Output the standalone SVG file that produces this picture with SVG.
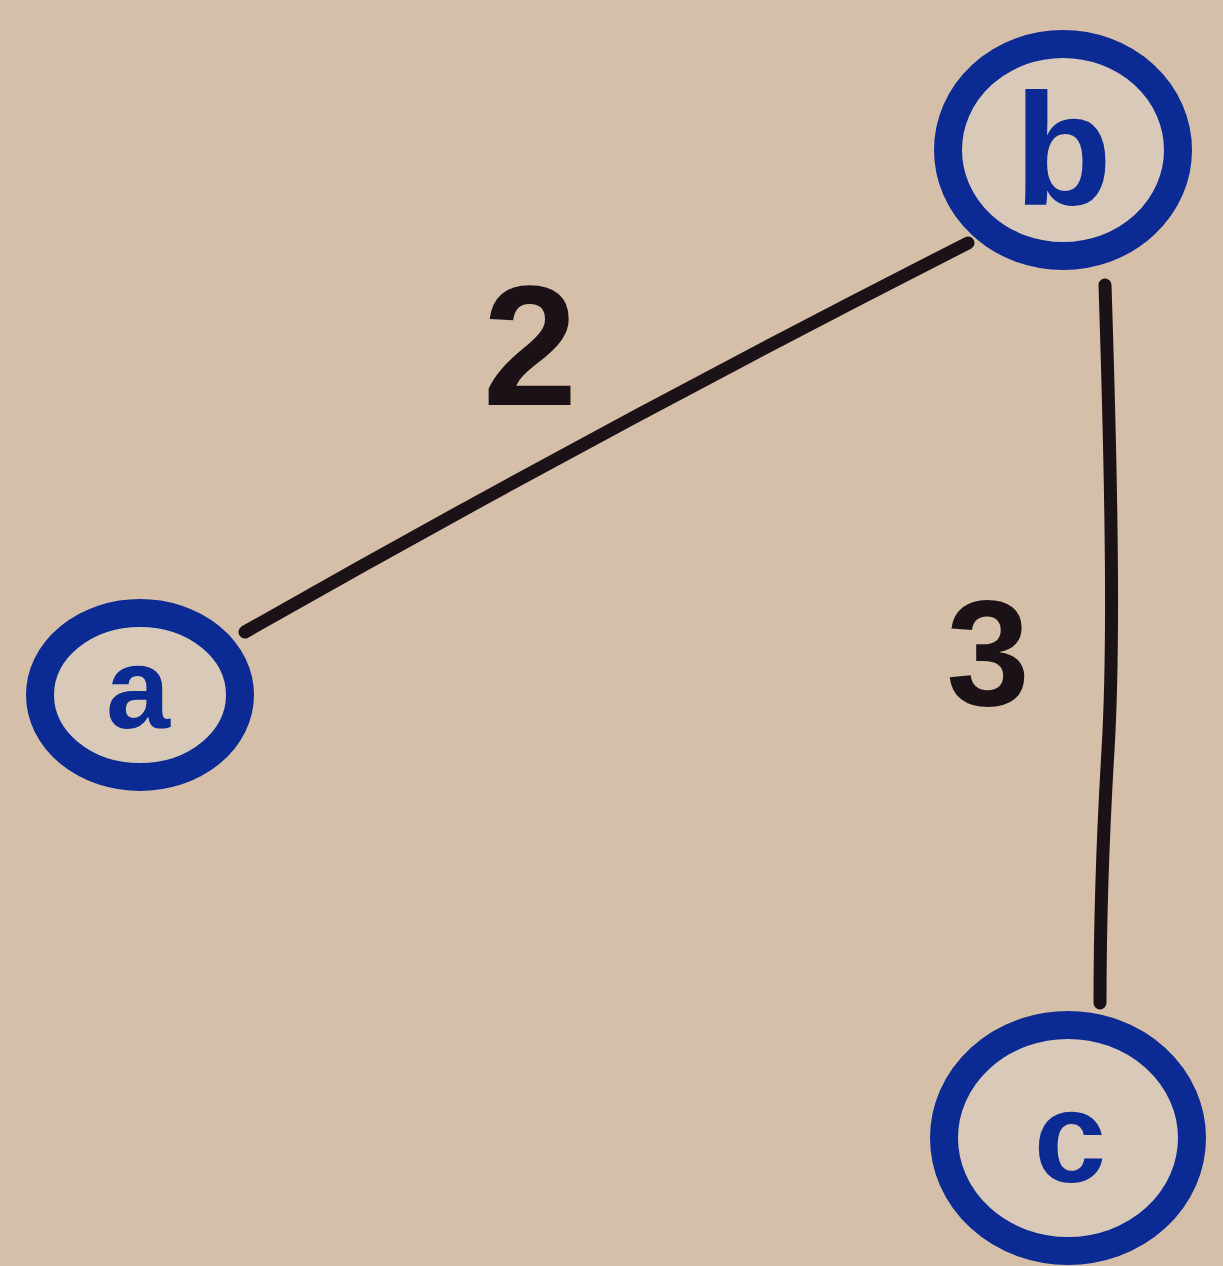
<svg xmlns="http://www.w3.org/2000/svg" width="1223" height="1266" viewBox="0 0 1223 1266">
<style>
.ring{fill:#d8c9b8;stroke:#0b2a93;stroke-width:28}
.lbl{font-family:"Liberation Sans",Arial,sans-serif;font-weight:bold;fill:#0b2a93;text-anchor:middle}
.edge{fill:none;stroke:#1a1216;stroke-width:13;stroke-linecap:round}
.w{font-family:"Liberation Sans",Arial,sans-serif;font-weight:bold;fill:#1a1216;text-anchor:middle}
</style>
<rect width="1223" height="1266" fill="#d6bfa8"/>
<g id="connectors">
<path class="edge" d="M245 632 Q600 430 968 243"/>
<path class="edge" d="M1105 285 C1112 500 1114 650 1108 750 C1102 850 1100 930 1100 1003"/>
<text class="w" x="530" y="405" font-size="170">2</text>
<text class="w" x="988" y="705" font-size="150">3</text>
</g>
<g id="node-b">
<ellipse class="ring" cx="1063" cy="150" rx="115" ry="106"/>
<text class="lbl" x="1063" y="205" font-size="160">b</text>
</g>
<g id="node-a">
<ellipse class="ring" cx="140" cy="695" rx="100" ry="82"/>
<text class="lbl" x="138" y="728" font-size="115">a</text>
</g>
<g id="node-c">
<ellipse class="ring" cx="1068" cy="1138" rx="124" ry="113"/>
<text class="lbl" x="1070" y="1182" font-size="130">c</text>
</g>
</svg>
